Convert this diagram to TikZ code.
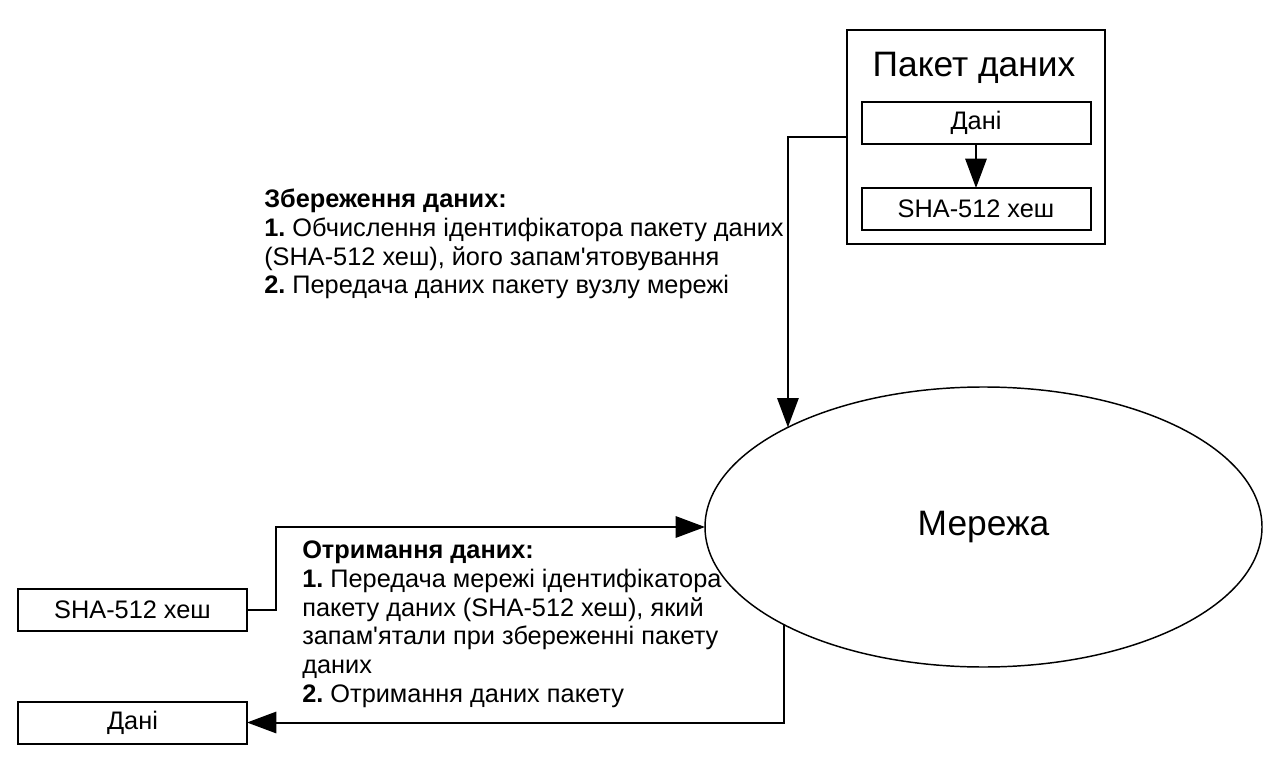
\documentclass[tikz,border=0pt]{standalone}
\usepackage{fontspec}
\setmainfont{Liberation Sans}
\usetikzlibrary{shapes.geometric,arrows.meta}
\frenchspacing
\begin{document}
\begin{tikzpicture}[x=0.75pt,y=-0.75pt,
  box/.style={draw,line width=1.5pt,inner sep=0pt,outer sep=0pt,minimum width=171.75pt,minimum height=31.5pt,font=\fontsize{19}{22}\selectfont},
  arr/.style={line width=1.5pt,-{Triangle[length=22pt,width=16pt]}},
  note/.style={anchor=north west,inner sep=0pt,align=left,font=\fontsize{19}{21.5}\selectfont},
  big/.style={font=\fontsize{26.5}{30}\selectfont}]
\useasboundingbox (0,0) rectangle (1280,780);
\node[draw,line width=1.5pt,inner sep=0pt,outer sep=0pt,minimum width=193.5pt,minimum height=160.5pt] (pkt) at (976,137) {};
\node[big,inner sep=0pt,anchor=base] (title) at (974,77) {Пакет даних};
\node[box] (dani1) at (976,123) {Дані};
\node[box] (sha1) at (976,209) {SHA-512 хеш};
\node[box] (sha2) at (132.5,610) {SHA-512 хеш};
\node[box] (dani2) at (132.5,722.5) {Дані};
\node[draw,ellipse,line width=1.1pt,inner sep=0pt,outer sep=0pt,minimum width=417.75pt,minimum height=210pt,big] (net) at (983.5,527) {Мережа};
\draw[arr] (dani1) -- (sha1);
\draw[arr] (pkt.west) -| (net.153.4);
\draw[arr] (sha2.east) -- ++(29,0) |- (net.west);
\draw[arr] (net.206.6) |- (dani2.east);
\node[note] (n1) at (264,189) {\textbf{Збереження даних:}\\\textbf{1.} Обчислення ідентифікатора пакету даних\\(SHA-512 хеш), його запам\textquotesingle ятовування\\\textbf{2.} Передача даних пакету вузлу мережі};
\node[note] (n2) at (302,541) {\textbf{Отримання даних:}\\\textbf{1.} Передача мережі ідентифікатора\\пакету даних (SHA-512 хеш), який\\запам\textquotesingle ятали при збереженні пакету\\даних\\\textbf{2.} Отримання даних пакету};
\end{tikzpicture}
\end{document}
